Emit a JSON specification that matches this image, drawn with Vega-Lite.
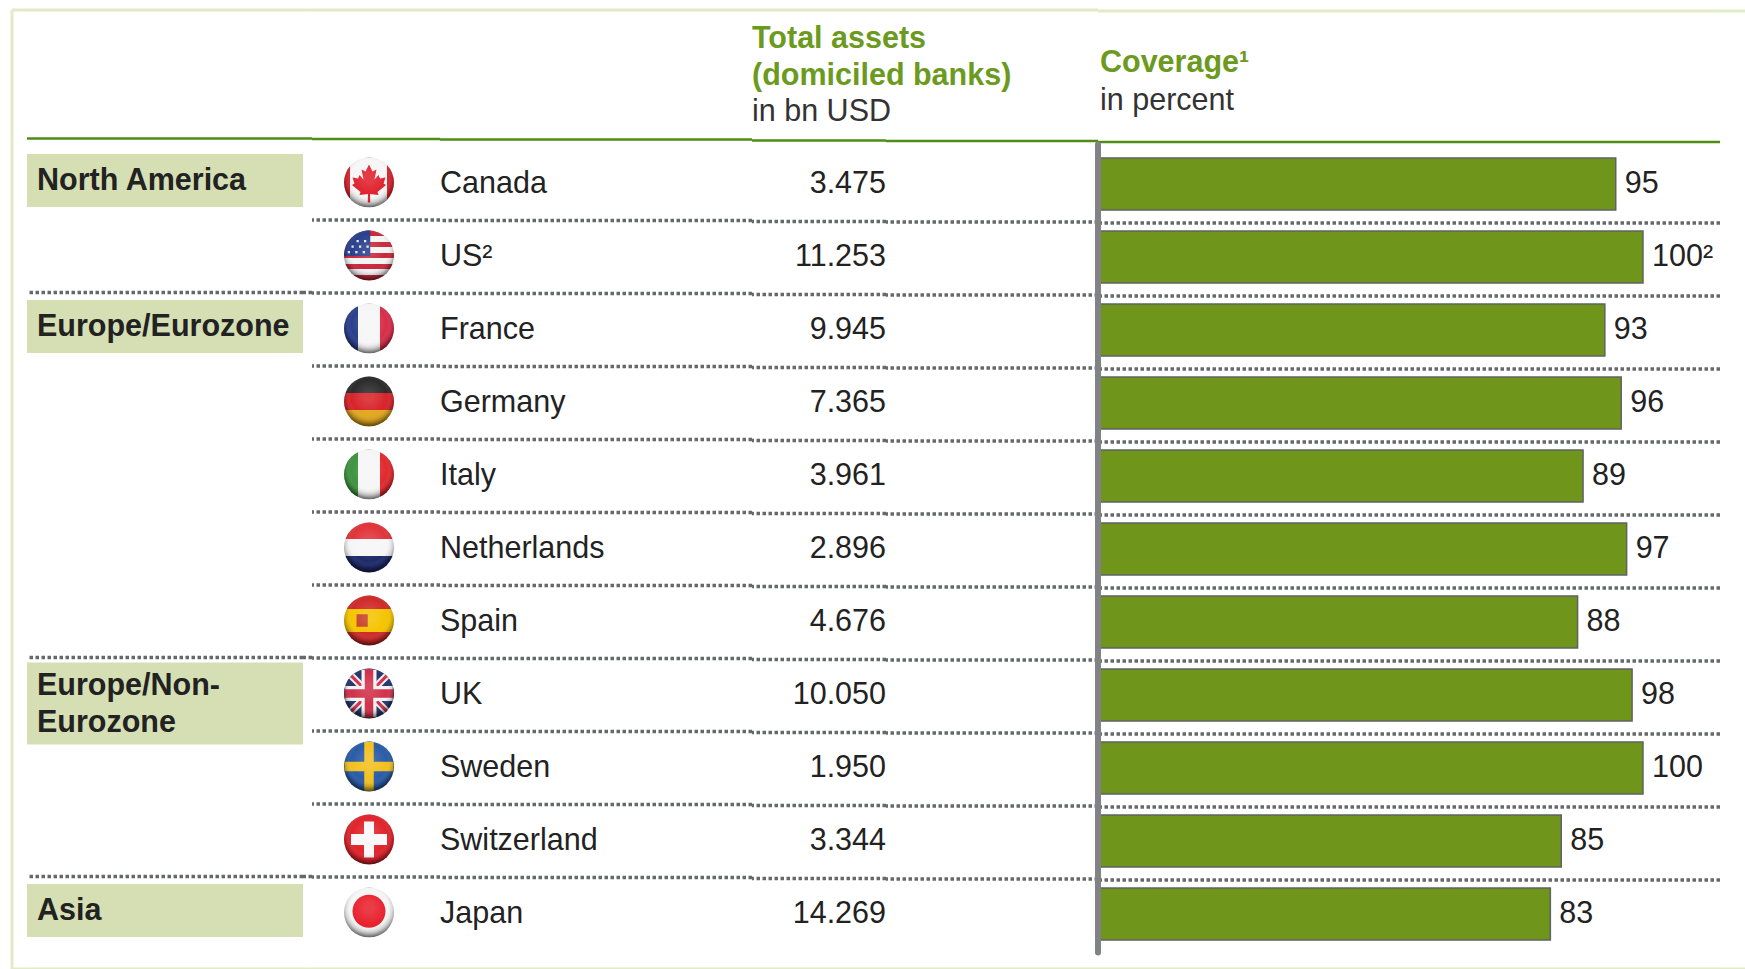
{
"$schema":"https://vega.github.io/schema/vega-lite/v6.json",
"background":"#ffffff",
"padding":{"left":10,"top":8,"right":0,"bottom":2},
"bounds":"flush",
"spacing":0,
"config":{"view":{"stroke":null},"font":"Liberation Sans","text":{"font":"Liberation Sans"}},
"datasets":{
"one":[{}],
"rows":[
{"region":"North America","lines":["North America"],"lead":true,"country":"Canada","assets":"3.475","coverage":95,"label":"95"},
{"region":"North America","lead":false,"country":"US²","assets":"11.253","coverage":100,"label":"100²"},
{"region":"Europe/Eurozone","lines":["Europe/Eurozone"],"lead":true,"country":"France","assets":"9.945","coverage":93,"label":"93"},
{"region":"Europe/Eurozone","lead":false,"country":"Germany","assets":"7.365","coverage":96,"label":"96"},
{"region":"Europe/Eurozone","lead":false,"country":"Italy","assets":"3.961","coverage":89,"label":"89"},
{"region":"Europe/Eurozone","lead":false,"country":"Netherlands","assets":"2.896","coverage":97,"label":"97"},
{"region":"Europe/Eurozone","lead":false,"country":"Spain","assets":"4.676","coverage":88,"label":"88"},
{"region":"Europe/Non-Eurozone","lines":["Europe/Non-","Eurozone"],"lead":true,"country":"UK","assets":"10.050","coverage":98,"label":"98"},
{"region":"Europe/Non-Eurozone","lead":false,"country":"Sweden","assets":"1.950","coverage":100,"label":"100"},
{"region":"Europe/Non-Eurozone","lead":false,"country":"Switzerland","assets":"3.344","coverage":85,"label":"85"},
{"region":"Asia","lines":["Asia"],"lead":true,"country":"Japan","assets":"14.269","coverage":83,"label":"83"}
],
"parts":[
{"country":"Canada","part":"leaf"},
{"country":"US²","part":"canton"},
{"country":"US²","part":"stars"},
{"country":"Spain","part":"emblem"},
{"country":"UK","part":"diagWhite"},
{"country":"UK","part":"diagRed"},
{"country":"UK","part":"crossWhite"},
{"country":"UK","part":"crossRed"},
{"country":"Sweden","part":"nordic"},
{"country":"Switzerland","part":"swiss"},
{"country":"Japan","part":"sun"}
]
},
"hconcat":[
{"width":15,"height":959,"data":{"name":"one"},"layer":[
{"mark":{"type":"rule","color":"#e3eac8","strokeWidth":3},"encoding":{"x":{"value":0}}},
{"mark":{"type":"rule","color":"#e3eac8","strokeWidth":3},"encoding":{"y":{"value":0}}},
{"mark":{"type":"rule","color":"#e3eac8","strokeWidth":3},"encoding":{"y":{"value":{"expr":"height"}}}}
]},
{"width":276,"height":959,"data":{"name":"rows"},
"encoding":{"y":{"field":"country","type":"nominal","axis":null,"scale":{"type":"band","domain":["Header","Canada","US²","France","Germany","Italy","Netherlands","Spain","UK","Sweden","Switzerland","Japan"],"range":[63.5,939.5],"paddingInner":0,"paddingOuter":0}}},
"layer":[
{"data":{"name":"one"},"mark":{"type":"rule","color":"#e3eac8","strokeWidth":3},"encoding":{"y":{"value":0}}},
{"data":{"name":"one"},"mark":{"type":"rule","color":"#e3eac8","strokeWidth":3},"encoding":{"y":{"value":{"expr":"height"}}}},
{"transform":[{"filter":"datum.lead && datum.country != 'Canada'"}],"mark":{"type":"rule","color":"#66686c","strokeWidth":3.5,"strokeDash":[3.5,2.5]},"encoding":{"y":{"field":"country","type":"nominal","bandPosition":0}}},
{"transform":[{"filter":"datum.country == 'Canada'"}],"mark":{"type":"rule","color":"#4f8c14","strokeWidth":2.5,"yOffset":-8},"encoding":{"y":{"field":"country","type":"nominal","bandPosition":0}}},
{"transform":[{"filter":"datum.lead && datum.country != 'UK'"}],"mark":{"type":"bar","height":53,"fill":"#d6dfb3","yOffset":-2.5}},
{"transform":[{"filter":"datum.country == 'UK'"}],"mark":{"type":"bar","height":82,"fill":"#d6dfb3","yOffset":9.5}},
{"transform":[{"filter":"datum.lead && datum.country != 'UK'"}],"mark":{"type":"text","align":"left","baseline":"middle","dx":10,"fontSize":30.5,"fontWeight":"bold","color":"#222222","x":0,"yOffset":-2.5},"encoding":{"text":{"field":"lines"}}},
{"transform":[{"filter":"datum.country == 'UK'"}],"mark":{"type":"text","align":"left","baseline":"middle","dx":10,"fontSize":30.5,"fontWeight":"bold","color":"#222222","lineHeight":37,"x":0,"yOffset":-8.5},"encoding":{"text":{"field":"lines"}}}
]},
{"width":9,"height":959,"data":{"name":"rows"},
"encoding":{"y":{"field":"country","type":"nominal","axis":null,"bandPosition":0,"scale":{"type":"band","domain":["Header","Canada","US²","France","Germany","Italy","Netherlands","Spain","UK","Sweden","Switzerland","Japan"],"range":[63.5,939.5],"paddingInner":0,"paddingOuter":0}}},
"layer":[
{"data":{"name":"one"},"mark":{"type":"rule","color":"#e3eac8","strokeWidth":3},"encoding":{"y":{"value":0}}},
{"data":{"name":"one"},"mark":{"type":"rule","color":"#e3eac8","strokeWidth":3},"encoding":{"y":{"value":{"expr":"height"}}}},
{"transform":[{"filter":"datum.lead && datum.country != 'Canada'"}],"mark":{"type":"rule","color":"#66686c","strokeWidth":3.5,"strokeDash":[3.5,2.5]}},
{"transform":[{"filter":"datum.country == 'Canada'"}],"mark":{"type":"rule","color":"#4f8c14","strokeWidth":2.5,"yOffset":-8}}
]},
{"width":128,"height":959,"data":{"name":"rows"},
"encoding":{"y":{"field":"country","type":"nominal","axis":null,"scale":{"type":"band","domain":["Header","Canada","US²","France","Germany","Italy","Netherlands","Spain","UK","Sweden","Switzerland","Japan"],"range":[64,940],"paddingInner":0,"paddingOuter":0}}},
"layer":[
{"data":{"name":"one"},"mark":{"type":"rule","color":"#e3eac8","strokeWidth":3},"encoding":{"y":{"value":0}}},
{"data":{"name":"one"},"mark":{"type":"rule","color":"#e3eac8","strokeWidth":3},"encoding":{"y":{"value":{"expr":"height"}}}},
{"transform":[{"filter":"datum.country != 'Canada'"}],"mark":{"type":"rule","color":"#66686c","strokeWidth":3.5,"strokeDash":[3.5,2.5]},"encoding":{"y":{"field":"country","type":"nominal","bandPosition":0}}},
{"transform":[{"filter":"datum.country == 'Canada'"}],"mark":{"type":"rule","color":"#4f8c14","strokeWidth":2.5,"yOffset":-8},"encoding":{"y":{"field":"country","type":"nominal","bandPosition":0}}},
{"transform":[{"filter":"datum.country == 'Canada'"}],"mark":{"type":"point","filled":true,"shape":"circle","size":2500,"opacity":1,"strokeWidth":0,"xOffset":-7,"yOffset":-1,"fill":{"gradient":"linear","x1":0,"x2":1,"y1":0,"y2":0,"stops":[{"offset":0,"color":"#d8232f"},{"offset":0.13,"color":"#d8232f"},{"offset":0.13,"color":"#f6f6f6"},{"offset":0.87,"color":"#f6f6f6"},{"offset":0.87,"color":"#d8232f"},{"offset":1,"color":"#d8232f"}]}}},
{"transform":[{"filter":"datum.country == 'US²'"}],"mark":{"type":"point","filled":true,"shape":"circle","size":2500,"opacity":1,"strokeWidth":0,"xOffset":-7,"yOffset":-1,"fill":{"gradient":"linear","x1":0,"x2":0,"y1":0,"y2":1,"stops":[{"offset":0,"color":"#c8283a"},{"offset":0.111,"color":"#c8283a"},{"offset":0.111,"color":"#f4f4f4"},{"offset":0.222,"color":"#f4f4f4"},{"offset":0.222,"color":"#c8283a"},{"offset":0.333,"color":"#c8283a"},{"offset":0.333,"color":"#f4f4f4"},{"offset":0.444,"color":"#f4f4f4"},{"offset":0.444,"color":"#c8283a"},{"offset":0.555,"color":"#c8283a"},{"offset":0.555,"color":"#f4f4f4"},{"offset":0.666,"color":"#f4f4f4"},{"offset":0.666,"color":"#c8283a"},{"offset":0.777,"color":"#c8283a"},{"offset":0.777,"color":"#f4f4f4"},{"offset":0.888,"color":"#f4f4f4"},{"offset":0.888,"color":"#c8283a"},{"offset":1,"color":"#c8283a"}]}}},
{"transform":[{"filter":"datum.country == 'France'"}],"mark":{"type":"point","filled":true,"shape":"circle","size":2500,"opacity":1,"strokeWidth":0,"xOffset":-7,"yOffset":-1,"fill":{"gradient":"linear","x1":0,"x2":1,"y1":0,"y2":0,"stops":[{"offset":0,"color":"#2a3f8c"},{"offset":0.28,"color":"#2a3f8c"},{"offset":0.28,"color":"#f6f6f6"},{"offset":0.72,"color":"#f6f6f6"},{"offset":0.72,"color":"#d92e4a"},{"offset":1,"color":"#d92e4a"}]}}},
{"transform":[{"filter":"datum.country == 'Germany'"}],"mark":{"type":"point","filled":true,"shape":"circle","size":2500,"opacity":1,"strokeWidth":0,"xOffset":-7,"yOffset":-1,"fill":{"gradient":"linear","x1":0,"x2":0,"y1":0,"y2":1,"stops":[{"offset":0,"color":"#2b2b2b"},{"offset":0.33,"color":"#2b2b2b"},{"offset":0.33,"color":"#d8232a"},{"offset":0.67,"color":"#d8232a"},{"offset":0.67,"color":"#e2a81e"},{"offset":1,"color":"#e2a81e"}]}}},
{"transform":[{"filter":"datum.country == 'Italy'"}],"mark":{"type":"point","filled":true,"shape":"circle","size":2500,"opacity":1,"strokeWidth":0,"xOffset":-7,"yOffset":-1,"fill":{"gradient":"linear","x1":0,"x2":1,"y1":0,"y2":0,"stops":[{"offset":0,"color":"#3f9440"},{"offset":0.28,"color":"#3f9440"},{"offset":0.28,"color":"#f6f6f6"},{"offset":0.72,"color":"#f6f6f6"},{"offset":0.72,"color":"#e22a2e"},{"offset":1,"color":"#e22a2e"}]}}},
{"transform":[{"filter":"datum.country == 'Netherlands'"}],"mark":{"type":"point","filled":true,"shape":"circle","size":2500,"opacity":1,"strokeWidth":0,"xOffset":-7,"yOffset":-1,"fill":{"gradient":"linear","x1":0,"x2":0,"y1":0,"y2":1,"stops":[{"offset":0,"color":"#e0343a"},{"offset":0.33,"color":"#e0343a"},{"offset":0.33,"color":"#f6f6f6"},{"offset":0.67,"color":"#f6f6f6"},{"offset":0.67,"color":"#1d2a6b"},{"offset":1,"color":"#1d2a6b"}]}}},
{"transform":[{"filter":"datum.country == 'Spain'"}],"mark":{"type":"point","filled":true,"shape":"circle","size":2500,"opacity":1,"strokeWidth":0,"xOffset":-7,"yOffset":-1,"fill":{"gradient":"linear","x1":0,"x2":0,"y1":0,"y2":1,"stops":[{"offset":0,"color":"#cf2a2a"},{"offset":0.27,"color":"#cf2a2a"},{"offset":0.27,"color":"#f5c400"},{"offset":0.73,"color":"#f5c400"},{"offset":0.73,"color":"#cf2a2a"},{"offset":1,"color":"#cf2a2a"}]}}},
{"transform":[{"filter":"datum.country == 'UK' || datum.country == 'Sweden' || datum.country == 'Switzerland' || datum.country == 'Japan'"}],"mark":{"type":"point","filled":true,"shape":"circle","size":2500,"opacity":1,"strokeWidth":0,"xOffset":-7,"yOffset":-1},
"encoding":{"fill":{"field":"country","type":"nominal","legend":null,"scale":{"domain":["UK","Sweden","Switzerland","Japan"],"range":["#24346e","#2a5ca8","#e0242c","#f6f6f6"]}}}},
{"data":{"name":"parts"},"mark":{"type":"point","filled":true,"size":2500,"opacity":1,"strokeWidth":0,"xOffset":-7,"yOffset":-1},
"encoding":{
"shape":{"field":"part","type":"nominal","legend":null,"scale":{"domain":["leaf","canton","stars","emblem","diagWhite","diagRed","crossWhite","crossRed","nordic","swiss","sun"],"range":[
"M0,-0.72 L0.14,-0.44 L0.3,-0.52 L0.22,-0.12 L0.38,-0.3 L0.44,-0.16 L0.66,-0.2 L0.58,0.04 L0.68,0.1 L0.34,0.38 L0.38,0.5 L0.04,0.46 L0.05,0.8 L-0.05,0.8 L-0.04,0.46 L-0.38,0.5 L-0.34,0.38 L-0.68,0.1 L-0.58,0.04 L-0.66,-0.2 L-0.44,-0.16 L-0.38,-0.3 L-0.22,-0.12 L-0.3,-0.52 L-0.14,-0.44 Z",
"M0.05,-1 L0.05,0.02 L-1,0.02 A1,1 0 0 1 0.05,-1 Z",
"M-0.5,-0.62h0.09v0.09h-0.09z M-0.2,-0.62h0.09v0.09h-0.09z M-0.7,-0.4h0.09v0.09h-0.09z M-0.4,-0.4h0.09v0.09h-0.09z M-0.1,-0.4h0.09v0.09h-0.09z M-0.85,-0.18h0.09v0.09h-0.09z M-0.55,-0.18h0.09v0.09h-0.09z M-0.25,-0.18h0.09v0.09h-0.09z",
"M-0.5,-0.25 H-0.05 V0.25 H-0.5 Z",
"M-0.8,-0.6 L-0.6,-0.8 L0.8,0.6 L0.6,0.8 Z M0.6,-0.8 L0.8,-0.6 L-0.6,0.8 L-0.8,0.6 Z",
"M-0.75,-0.66 L-0.66,-0.75 L0.75,0.66 L0.66,0.75 Z M0.66,-0.75 L0.75,-0.66 L-0.66,0.75 L-0.75,0.66 Z",
"M-0.3,-0.95 H0.3 V-0.3 H0.95 V0.3 H0.3 V0.95 H-0.3 V0.3 H-0.95 V-0.3 H-0.3 Z",
"M-0.17,-0.98 H0.17 V-0.17 H0.98 V0.17 H0.17 V0.98 H-0.17 V0.17 H-0.98 V-0.17 H-0.17 Z",
"M-0.19,-0.98 H0.19 V-0.19 H0.98 V0.19 H0.19 V0.98 H-0.19 V0.19 H-0.98 V-0.19 H-0.19 Z",
"M-0.2,-0.72 H0.2 V-0.22 H0.72 V0.22 H0.2 V0.72 H-0.2 V0.22 H-0.72 V-0.22 H-0.2 Z",
"M-0.66,-0.05 A0.66,0.66 0 1 1 0.66,-0.05 A0.66,0.66 0 1 1 -0.66,-0.05 Z"
]}},
"fill":{"field":"part","type":"nominal","legend":null,"scale":{"domain":["leaf","canton","stars","emblem","diagWhite","diagRed","crossWhite","crossRed","nordic","swiss","sun"],"range":["#e0202c","#2a3f8c","#e8e8f4","#c8402a","#f2f2f2","#d0304a","#f2f2f2","#d0304a","#f2c01e","#f8f8f8","#e8202c"]}}}},
{"mark":{"type":"point","filled":true,"shape":"circle","size":2500,"opacity":1,"strokeWidth":0,"xOffset":-7,"yOffset":-1,
"fill":{"gradient":"radial","x1":0.5,"y1":0.4,"r1":0.1,"x2":0.5,"y2":0.42,"r2":0.62,"stops":[{"offset":0,"color":"rgba(255,255,255,0.12)"},{"offset":0.5,"color":"rgba(255,255,255,0)"},{"offset":0.75,"color":"rgba(0,0,0,0.2)"},{"offset":1,"color":"rgba(0,0,0,0.8)"}]}}}
],
"resolve":{"scale":{"fill":"independent"}}},
{"width":312,"height":959,"data":{"name":"rows"},
"encoding":{"y":{"field":"country","type":"nominal","axis":null,"scale":{"type":"band","domain":["Header","Canada","US²","France","Germany","Italy","Netherlands","Spain","UK","Sweden","Switzerland","Japan"],"range":[64.5,940.5],"paddingInner":0,"paddingOuter":0}}},
"layer":[
{"data":{"name":"one"},"mark":{"type":"rule","color":"#e3eac8","strokeWidth":3},"encoding":{"y":{"value":0}}},
{"data":{"name":"one"},"mark":{"type":"rule","color":"#e3eac8","strokeWidth":3},"encoding":{"y":{"value":{"expr":"height"}}}},
{"transform":[{"filter":"datum.country != 'Canada'"}],"mark":{"type":"rule","color":"#66686c","strokeWidth":3.5,"strokeDash":[3.5,2.5]},"encoding":{"y":{"field":"country","type":"nominal","bandPosition":0}}},
{"transform":[{"filter":"datum.country == 'Canada'"}],"mark":{"type":"rule","color":"#4f8c14","strokeWidth":2.5,"yOffset":-8},"encoding":{"y":{"field":"country","type":"nominal","bandPosition":0}}},
{"mark":{"type":"text","align":"left","baseline":"middle","fontSize":30.5,"color":"#222222","x":0},"encoding":{"text":{"field":"country"}}}
]},
{"width":134,"height":959,"data":{"name":"rows"},
"encoding":{"y":{"field":"country","type":"nominal","axis":null,"scale":{"type":"band","domain":["Header","Canada","US²","France","Germany","Italy","Netherlands","Spain","UK","Sweden","Switzerland","Japan"],"range":[65.5,941.5],"paddingInner":0,"paddingOuter":0}}},
"layer":[
{"data":{"name":"one"},"mark":{"type":"rule","color":"#e3eac8","strokeWidth":3},"encoding":{"y":{"value":0}}},
{"data":{"name":"one"},"mark":{"type":"rule","color":"#e3eac8","strokeWidth":3},"encoding":{"y":{"value":{"expr":"height"}}}},
{"transform":[{"filter":"datum.country != 'Canada'"}],"mark":{"type":"rule","color":"#66686c","strokeWidth":3.5,"strokeDash":[3.5,2.5]},"encoding":{"y":{"field":"country","type":"nominal","bandPosition":0}}},
{"transform":[{"filter":"datum.country == 'Canada'"}],"mark":{"type":"rule","color":"#4f8c14","strokeWidth":2.5,"yOffset":-8},"encoding":{"y":{"field":"country","type":"nominal","bandPosition":0}}},
{"mark":{"type":"text","align":"right","baseline":"middle","fontSize":30.5,"color":"#222222","x":"width","yOffset":-1},"encoding":{"text":{"field":"assets"}}},
{"data":{"name":"one"},"mark":{"type":"text","align":"left","baseline":"middle","fontSize":30.5,"fontWeight":"bold","color":"#6b9a1e","lineHeight":36.5,"x":0,"yOffset":-73,"text":["Total assets","(domiciled banks)"]},"encoding":{"y":{"datum":"Header","type":"nominal"}}},
{"data":{"name":"one"},"mark":{"type":"text","align":"left","baseline":"middle","fontSize":30.5,"color":"#333333","x":0,"yOffset":0,"text":"in bn USD"},"encoding":{"y":{"datum":"Header","type":"nominal"}}}
]},
{"width":212,"height":959,"data":{"name":"rows"},
"encoding":{"y":{"field":"country","type":"nominal","axis":null,"bandPosition":0,"scale":{"type":"band","domain":["Header","Canada","US²","France","Germany","Italy","Netherlands","Spain","UK","Sweden","Switzerland","Japan"],"range":[66,942],"paddingInner":0,"paddingOuter":0}}},
"layer":[
{"data":{"name":"one"},"mark":{"type":"rule","color":"#e3eac8","strokeWidth":3},"encoding":{"y":{"value":0}}},
{"data":{"name":"one"},"mark":{"type":"rule","color":"#e3eac8","strokeWidth":3},"encoding":{"y":{"value":{"expr":"height"}}}},
{"transform":[{"filter":"datum.country != 'Canada'"}],"mark":{"type":"rule","color":"#66686c","strokeWidth":3.5,"strokeDash":[3.5,2.5]}},
{"transform":[{"filter":"datum.country == 'Canada'"}],"mark":{"type":"rule","color":"#4f8c14","strokeWidth":2.5,"yOffset":-8}}
]},
{"width":622,"height":959,"data":{"name":"rows"},
"encoding":{"y":{"field":"country","type":"nominal","axis":null,"scale":{"type":"band","domain":["Header","Canada","US²","France","Germany","Italy","Netherlands","Spain","UK","Sweden","Switzerland","Japan"],"range":[67,943],"paddingInner":0,"paddingOuter":0}}},
"layer":[
{"data":{"name":"one"},"mark":{"type":"rule","color":"#e3eac8","strokeWidth":3},"encoding":{"y":{"value":1}}},
{"data":{"name":"one"},"mark":{"type":"rule","color":"#e3eac8","strokeWidth":3},"encoding":{"y":{"value":{"expr":"height"}}}},
{"transform":[{"filter":"datum.country != 'Canada'"}],"mark":{"type":"rule","color":"#66686c","strokeWidth":3.5,"strokeDash":[3.5,2.5]},"encoding":{"y":{"field":"country","type":"nominal","bandPosition":0}}},
{"transform":[{"filter":"datum.country == 'Canada'"}],"mark":{"type":"rule","color":"#4f8c14","strokeWidth":2.5,"yOffset":-8},"encoding":{"y":{"field":"country","type":"nominal","bandPosition":0}}},
{"mark":{"type":"bar","height":52,"fill":"#6f951b","stroke":"#5f6266","strokeWidth":1.5,"yOffset":-2.5},"encoding":{"x":{"field":"coverage","type":"quantitative","axis":null,"scale":{"domain":[0,114.13],"nice":false,"zero":false}}}},
{"data":{"name":"one"},"mark":{"type":"rule","color":"#808286","strokeWidth":6,"strokeCap":"round","yOffset":-42,"y2Offset":36},"encoding":{"x":{"value":0},"y":{"datum":"Canada","type":"nominal"},"y2":{"datum":"Japan"}}},
{"mark":{"type":"text","align":"left","baseline":"middle","fontSize":30.5,"color":"#222222","dx":9,"yOffset":-2.5},"encoding":{"x":{"field":"coverage","type":"quantitative"},"text":{"field":"label"}}},
{"data":{"name":"one"},"mark":{"type":"text","align":"left","baseline":"middle","fontSize":30.5,"fontWeight":"bold","color":"#6b9a1e","dx":2,"x":0,"yOffset":-51,"text":"Coverage¹"},"encoding":{"y":{"datum":"Header","type":"nominal"}}},
{"data":{"name":"one"},"mark":{"type":"text","align":"left","baseline":"middle","fontSize":30.5,"color":"#333333","dx":2,"x":0,"yOffset":-13,"text":"in percent"},"encoding":{"y":{"datum":"Header","type":"nominal"}}}
]},
{"width":27,"height":959,"data":{"name":"one"},"layer":[
{"mark":{"type":"rule","color":"#e3eac8","strokeWidth":3},"encoding":{"y":{"value":1}}},
{"mark":{"type":"rule","color":"#e3eac8","strokeWidth":3},"encoding":{"y":{"value":{"expr":"height"}}}}
]}
]
}
